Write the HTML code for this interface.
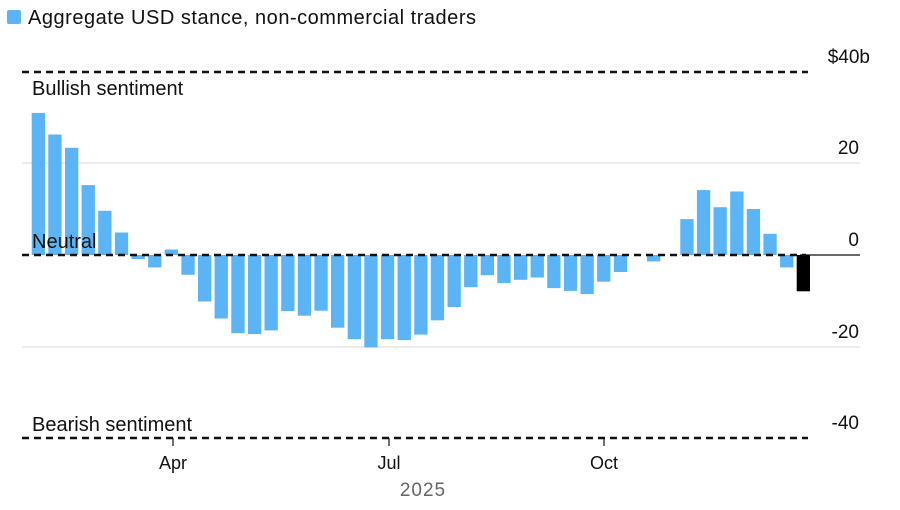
<!DOCTYPE html>
<html><head><meta charset="utf-8"><style>
html,body{margin:0;padding:0;background:#fff;}
svg{display:block;font-family:"Liberation Sans",Arial,sans-serif;}
</style></head><body>
<svg width="900" height="510" viewBox="0 0 900 510">
<rect x="7" y="10" width="14" height="14" rx="2" fill="#5ab4f5"/>
<text x="28" y="24" font-size="20" fill="#111" textLength="448">Aggregate USD stance, non-commercial traders</text>
<line x1="22" y1="163" x2="860" y2="163" stroke="#d8d8d8" stroke-width="1"/>
<line x1="22" y1="347" x2="860" y2="347" stroke="#d8d8d8" stroke-width="1"/>
<line x1="800" y1="255" x2="860" y2="255" stroke="#111" stroke-width="1.2"/>
<g fill="#5ab4f5">
<rect x="31.7" y="112.9" width="13.3" height="142.1"/>
<rect x="48.3" y="134.5" width="13.3" height="120.5"/>
<rect x="65.0" y="147.8" width="13.3" height="107.2"/>
<rect x="81.6" y="185.1" width="13.3" height="69.9"/>
<rect x="98.2" y="210.8" width="13.3" height="44.2"/>
<rect x="114.9" y="232.5" width="13.3" height="22.5"/>
<rect x="131.5" y="255" width="13.3" height="4.1"/>
<rect x="148.1" y="255" width="13.3" height="12.4"/>
<rect x="164.7" y="249.5" width="13.3" height="5.5"/>
<rect x="181.4" y="255" width="13.3" height="19.8"/>
<rect x="198.0" y="255" width="13.3" height="46.5"/>
<rect x="214.6" y="255" width="13.3" height="63.5"/>
<rect x="231.3" y="255" width="13.3" height="78.2"/>
<rect x="247.9" y="255" width="13.3" height="79.1"/>
<rect x="264.5" y="255" width="13.3" height="75.4"/>
<rect x="281.2" y="255" width="13.3" height="56.1"/>
<rect x="297.8" y="255" width="13.3" height="60.7"/>
<rect x="314.4" y="255" width="13.3" height="55.7"/>
<rect x="331.0" y="255" width="13.3" height="72.7"/>
<rect x="347.7" y="255" width="13.3" height="84.2"/>
<rect x="364.3" y="255" width="13.3" height="92.5"/>
<rect x="380.9" y="255" width="13.3" height="84.2"/>
<rect x="397.6" y="255" width="13.3" height="85.1"/>
<rect x="414.2" y="255" width="13.3" height="79.6"/>
<rect x="430.8" y="255" width="13.3" height="65.3"/>
<rect x="447.5" y="255" width="13.3" height="52"/>
<rect x="464.1" y="255" width="13.3" height="32.2"/>
<rect x="480.7" y="255" width="13.3" height="20.2"/>
<rect x="497.3" y="255" width="13.3" height="28.1"/>
<rect x="514.0" y="255" width="13.3" height="24.8"/>
<rect x="530.6" y="255" width="13.3" height="22.5"/>
<rect x="547.2" y="255" width="13.3" height="33.1"/>
<rect x="563.9" y="255" width="13.3" height="35.9"/>
<rect x="580.5" y="255" width="13.3" height="39.1"/>
<rect x="597.1" y="255" width="13.3" height="26.7"/>
<rect x="613.8" y="255" width="13.3" height="17"/>
<rect x="647.0" y="255" width="13.3" height="6.4"/>
<rect x="680.3" y="219.1" width="13.3" height="35.9"/>
<rect x="696.9" y="190.1" width="13.3" height="64.9"/>
<rect x="713.5" y="207.2" width="13.3" height="47.8"/>
<rect x="730.2" y="191.5" width="13.3" height="63.5"/>
<rect x="746.8" y="209" width="13.3" height="46"/>
<rect x="763.4" y="233.8" width="13.3" height="21.2"/>
<rect x="780.1" y="255" width="13.3" height="12.4"/>
<rect x="796.7" y="255" width="13.3" height="36.3" fill="#000"/>
</g>
<line x1="22" y1="255" x2="806" y2="255" stroke="#111" stroke-width="2.5" stroke-dasharray="7,5"/>
<line x1="22" y1="72" x2="808" y2="72" stroke="#111" stroke-width="2.5" stroke-dasharray="7,5"/>
<line x1="22" y1="438" x2="808" y2="438" stroke="#111" stroke-width="2.5" stroke-dasharray="7,5"/>
<text x="32" y="95" font-size="20" fill="#111">Bullish sentiment</text>
<text x="32" y="248" font-size="20" fill="#111">Neutral</text>
<text x="32" y="431" font-size="20" fill="#111">Bearish sentiment</text>
<g font-size="19" fill="#111" text-anchor="end">
<text x="870" y="63">$40b</text>
<text x="859" y="154">20</text>
<text x="859" y="246">0</text>
<text x="859" y="338">-20</text>
<text x="859" y="429">-40</text>
</g>
<g stroke="#111" stroke-width="1.2">
<line x1="173" y1="438" x2="173" y2="446"/>
<line x1="389" y1="438" x2="389" y2="446"/>
<line x1="604" y1="438" x2="604" y2="446"/>
</g>
<g font-size="18" fill="#111" text-anchor="middle">
<text x="173" y="469">Apr</text>
<text x="389" y="469">Jul</text>
<text x="604" y="469">Oct</text>
</g>
<text x="423" y="496" font-size="19" fill="#666" text-anchor="middle" letter-spacing="1">2025</text>
</svg>
</body></html>
